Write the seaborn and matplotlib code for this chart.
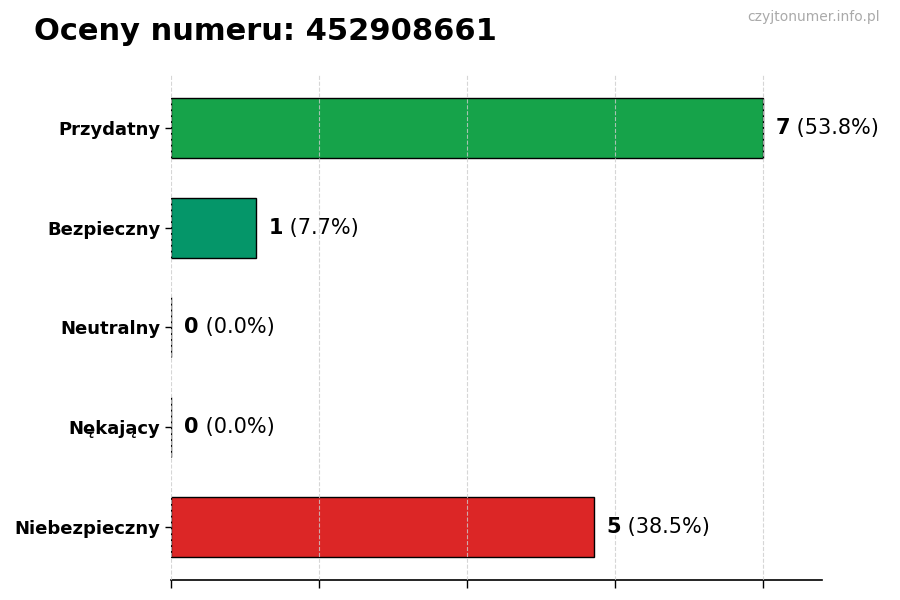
import matplotlib
matplotlib.use("Agg")
import matplotlib.pyplot as plt
import numpy as np
import pandas as pd
import seaborn as sns

number = "452908661"
categories = ["Przydatny", "Bezpieczny", "Neutralny", "Nękający", "Niebezpieczny"]
counts = [7, 1, 0, 0, 5]
colors = ["#16a34a", "#059669", "#6b7280", "#ea580c", "#dc2626"]

df = pd.DataFrame({"category": categories, "count": counts})
total = sum(counts)
df["pct"] = [c / total * 100 for c in counts]

sns.set_style("white")
plt.rcParams["font.family"] = ["DejaVu Sans"]
plt.rcParams["text.color"] = "black"
plt.rcParams["xtick.color"] = "black"
plt.rcParams["ytick.color"] = "black"

fig = plt.figure(figsize=(9, 6), dpi=100)
ax = fig.add_axes([0.19, 0.0333, 0.723, 0.842])

sns.barplot(data=df, y="category", x="count", hue="category", palette=colors,
            orient="h", width=0.6, edgecolor="black", linewidth=1,
            legend=False, ax=ax, saturation=1)

xmax = max(counts) * 1.1
ax.set_xlim(0, xmax)
ax.set_ylim(len(categories) - 1 + 0.53, -0.53)
ax.set_xticks(np.linspace(0, max(counts), 5))
ax.set_xticklabels([])
ax.tick_params(axis="x", bottom=True, length=6, width=1, color="black")
ax.tick_params(axis="y", left=True, length=4, width=1, color="black")
ax.set_xlabel("")
ax.set_ylabel("")
for lbl in ax.get_yticklabels():
    lbl.set_fontweight("bold")
    lbl.set_fontsize(13)
    lbl.set_color("black")

ax.grid(axis="x", linestyle="--", color="#cccccc", linewidth=0.8, alpha=0.8)
ax.set_axisbelow(False)
for side in ["top", "right", "left"]:
    ax.spines[side].set_visible(False)
ax.spines["bottom"].set_color("black")
ax.spines["bottom"].set_linewidth(1.2)

for i, row in df.iterrows():
    t = ax.text(row["count"] + xmax * 0.02, i, f"{row['count']}", fontsize=15,
                fontweight="bold", va="center", ha="left", color="black")
    ax.annotate(f" ({row['pct']:.1f}%)", xy=(1, 0.5), xycoords=t,
                va="center", ha="left", fontsize=15, color="black")

fig.text(0.038, 0.972, f"Oceny numeru: {number}", fontsize=22,
         fontweight="bold", va="top", ha="left", color="black")
fig.text(0.978, 0.983, "czyjtonumer.info.pl", fontsize=10, color="#aaaaaa",
         va="top", ha="right")

fig.savefig("out.png", dpi=100)
